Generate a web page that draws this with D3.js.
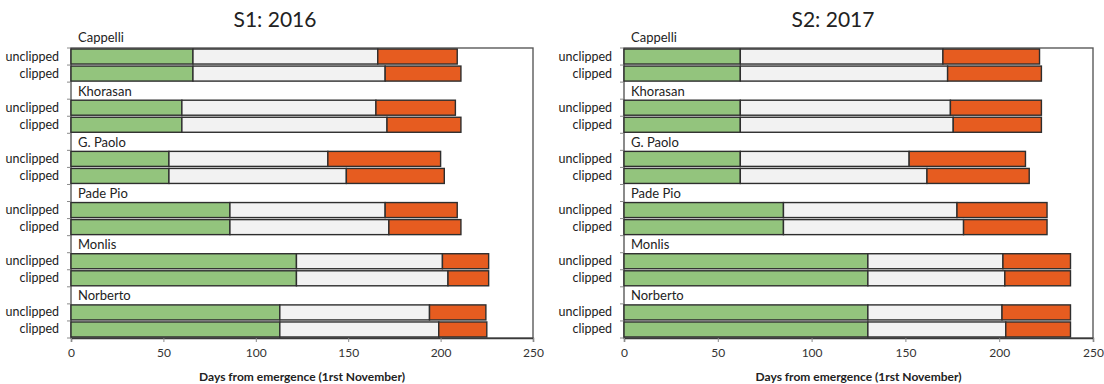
<!DOCTYPE html>
<html>
<head>
<meta charset="utf-8">
<script src="https://cdn.jsdelivr.net/npm/d3@7"></script>
<style>
  html, body { margin: 0; padding: 0; background: #ffffff; }
  svg { display: block; font-family: Lato, "Open Sans", sans-serif; }
</style>
</head>
<body>
<svg id="chart" width="1104" height="384"></svg>
<script>
// Varieties and treatments, top to bottom
const varieties = ["Cappelli", "Khorasan", "G. Paolo", "Pade Pio", "Monlis", "Norberto"];
const treatments = ["unclipped", "clipped"];

// Season 1 (2016): day at which each phase ends, one value per variety × treatment
const s1GreenEnd  = [66, 66, 60, 60, 53, 53, 86, 86, 122, 122, 113, 113];
const s1GreyEnd   = [166, 170, 165, 171, 139, 149, 170, 172, 201, 204, 194, 199];
const s1OrangeEnd = [209, 211, 208, 211, 200, 202, 209, 211, 226, 226, 224.5, 225];

// Season 2 (2017)
const s2GreenEnd  = [62, 62, 62, 62, 62, 62, 85, 85, 130, 130, 130, 130];
const s2GreyEnd   = [170, 172.5, 174, 175.5, 152, 161.5, 177.5, 181, 202, 203, 201.5, 203.5];
const s2OrangeEnd = [221.5, 222.5, 222.5, 222.5, 214, 216, 225.5, 225.5, 238, 238, 238, 238];

const xTicks = [0, 50, 100, 150, 200, 250];
const axisTitle = "Days from emergence (1rst November)";

const panels = [
  { title: "S1: 2016", green: s1GreenEnd, grey: s1GreyEnd, orange: s1OrangeEnd,
    x0: 71, x1: 533, titleX: 275 },
  { title: "S2: 2017", green: s2GreenEnd, grey: s2GreyEnd, orange: s2OrangeEnd,
    x0: 624, x1: 1093, titleX: 833 }
];

const colors = { green: "#93c47d", grey: "#f2f2f2", orange: "#e65c20" };
const plotTop = 48, plotBottom = 338;

// Row order: each variety after the first gets a header row for its name
const rows = [];
varieties.forEach((v, i) => {
  if (i > 0) rows.push({ key: "h|" + v, type: "header", variety: v });
  treatments.forEach((t, j) => rows.push({ key: v + "|" + t, type: "bar", variety: v, treatment: t, idx: i * 2 + j }));
});

const svg = d3.select("#chart");

panels.forEach(p => {
  const x = d3.scaleLinear().domain([0, 250]).range([p.x0, p.x1]);
  const y = d3.scaleBand().domain(rows.map(r => r.key)).range([plotTop, plotBottom])
    .paddingInner(0.12).paddingOuter(0.06);
  const g = svg.append("g");

  // title
  g.append("text").attr("x", p.titleX).attr("y", 27).attr("text-anchor", "middle")
    .attr("font-size", 21).attr("fill", "#222").text(p.title);

  // plot frame
  g.append("rect").attr("x", x(0)).attr("y", plotTop).attr("width", x(250) - x(0)).attr("height", plotBottom - plotTop)
    .attr("fill", "none").attr("stroke", "#5a5a5a").attr("stroke-width", 1.4);

  // category tick marks at row boundaries
  const step = y.step();
  const firstEdge = y(rows[0].key) - step * y.paddingInner() / 2;
  d3.range(rows.length + 1).forEach(k => {
    const yy = firstEdge + k * step;
    g.append("line").attr("x1", x(0) - 4).attr("x2", x(0)).attr("y1", yy).attr("y2", yy)
      .attr("stroke", "#8a8a8a").attr("stroke-width", 1);
  });

  // stacked phase bars
  const barRows = rows.filter(r => r.type === "bar");
  const segs = [];
  barRows.forEach(r => {
    const i = r.idx;
    segs.push({ r, from: 0, to: p.green[i], c: colors.green });
    segs.push({ r, from: p.green[i], to: p.grey[i], c: colors.grey });
    segs.push({ r, from: p.grey[i], to: p.orange[i], c: colors.orange });
  });
  g.selectAll("rect.seg").data(segs).join("rect").attr("class", "seg")
    .attr("x", d => x(d.from)).attr("width", d => x(d.to) - x(d.from))
    .attr("y", d => y(d.r.key)).attr("height", y.bandwidth())
    .attr("fill", d => d.c).attr("stroke", "#2e2e2e").attr("stroke-width", 1.4);

  // treatment labels
  g.selectAll("text.trt").data(barRows).join("text").attr("class", "trt")
    .attr("x", x(0) - 12).attr("y", d => y(d.key) + y.bandwidth() / 2 + 4)
    .attr("text-anchor", "end").attr("font-size", 12.5).attr("fill", "#222")
    .text(d => d.treatment);

  // variety names
  const heads = rows.filter(r => r.type === "header");
  g.append("text").attr("x", x(0) + 7).attr("y", plotTop - 6).attr("font-size", 13)
    .attr("fill", "#222").text(varieties[0]);
  g.selectAll("text.var").data(heads).join("text").attr("class", "var")
    .attr("x", x(0) + 7).attr("y", d => y(d.key) + y.bandwidth() / 2 + 5)
    .attr("font-size", 13).attr("fill", "#222").text(d => d.variety);

  // value axis
  const ax = g.append("g").attr("transform", `translate(0,${plotBottom})`)
    .call(d3.axisBottom(x).tickValues(xTicks).tickSize(4).tickPadding(6));
  ax.select(".domain").attr("stroke", "#3a3a3a").attr("stroke-width", 1.4);
  ax.selectAll(".tick line").attr("stroke", "#8a8a8a");
  ax.selectAll(".tick text").attr("font-size", 12).attr("fill", "#333")
    .attr("font-family", "Lato, sans-serif");

  g.append("text").attr("x", (x(0) + x(250)) / 2).attr("y", 381).attr("text-anchor", "middle")
    .attr("font-size", 12).attr("font-weight", "bold").attr("fill", "#222").text(axisTitle);
});
</script>
</body>
</html>
